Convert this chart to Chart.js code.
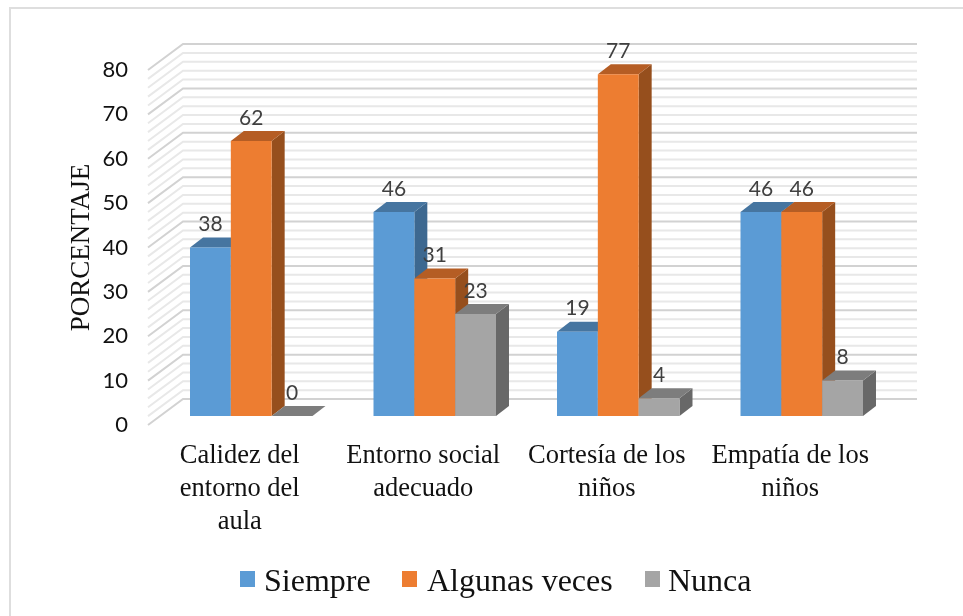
<!DOCTYPE html>
<html>
<head>
<meta charset="utf-8">
<script src="https://cdn.jsdelivr.net/npm/chart.js@4"></script>
<style>
    html, body { margin: 0; padding: 0; background: #fff; }
    #wrap { position: relative; width: 963px; height: 616px; overflow: hidden; }
    #frame { position: absolute; left: 9px; top: 7px; right: 0; bottom: 0; border-left: 2px solid #dedede; border-top: 2px solid #dedede; }
    #chart { position: absolute; left: 0; top: 0; }
    .legend-item { position: absolute; top: 560px; font: 32px "Liberation Serif", serif; line-height: 40px; color: #111; white-space: nowrap; }
    .legend-box { position: absolute; top: 571px; width: 15px; height: 16px; }
</style>
</head>
<body>
<div id="wrap">
    <div id="frame"></div>
    <canvas id="chart" width="963" height="616"></canvas>
</div>
<script>
const categories = [
    ['Calidez del', 'entorno del', 'aula'],
    ['Entorno social', 'adecuado'],
    ['Cortesía de los', 'niños'],
    ['Empatía de los', 'niños']
];
const siempre = [38, 46, 19, 46];
const algunasVeces = [62, 31, 77, 46];
const nunca = [0, 23, 4, 8];

const seriesNames = ['Siempre', 'Algunas veces', 'Nunca'];
const frontColors = ['#5b9bd5', '#ed7d31', '#a5a5a5'];
const topColors = ['#4675a0', '#b55d24', '#7d7d7d'];
const sideColors = ['#3d6890', '#964f1d', '#686868'];
const legendBoxX = [240, 402, 645];
const legendTextX = [264, 427, 668];

// wall depth and how far the bars stand off the front of the floor
const wallDx = 35, wallDy = -26;
const barShiftX = 11.5, barShiftY = -9;
const depthX = 13, depthY = -10;

function poly(ctx, pts, color) {
    ctx.fillStyle = color;
    ctx.beginPath();
    pts.forEach((p, i) => i ? ctx.lineTo(p[0], p[1]) : ctx.moveTo(p[0], p[1]));
    ctx.closePath();
    ctx.fill();
}

const wallsPlugin = {
    id: 'walls',
    beforeDatasetsDraw(chart) {
        const { ctx, chartArea, scales } = chart;
        ctx.save();
        ctx.filter = 'blur(0.7px)'; // the source picture is a soft screenshot
        scales.y.ticks.forEach(tick => {
            const y = scales.y.getPixelForValue(tick.value);
            const major = tick.value % 10 === 0;
            ctx.strokeStyle = major ? '#d2d2d2' : '#e8e8e8';
            ctx.lineWidth = 2;
            ctx.beginPath();
            ctx.moveTo(chartArea.left, y);
            ctx.lineTo(chartArea.left + wallDx, y + wallDy);
            ctx.lineTo(chartArea.right + wallDx, y + wallDy);
            ctx.stroke();
        });
        ctx.restore();
    }
};

const bars3dPlugin = {
    id: 'bars3d',
    // the plugin paints the bars itself, left series first, so the faces overlap properly
    beforeDatasetDraw() {
        return false;
    },
    afterDatasetsDraw(chart) {
        const { ctx } = chart;
        ctx.save();
        ctx.translate(barShiftX, barShiftY);
        ctx.filter = 'blur(0.4px)';
        chart.data.datasets.forEach((ds, d) => {
            chart.getDatasetMeta(d).data.forEach(bar => {
                const l = bar.x - bar.width / 2, r = bar.x + bar.width / 2;
                const t = bar.y, b = bar.base;
                poly(ctx, [[r, t], [r + depthX, t + depthY], [r + depthX, b + depthY], [r, b]], sideColors[d]);
                poly(ctx, [[l, t], [l + depthX, t + depthY], [r + depthX, t + depthY], [r, t]], topColors[d]);
                if (b > t) poly(ctx, [[l, t], [r, t], [r, b], [l, b]], frontColors[d]);
            });
        });
        // value labels go on top of every bar
        ctx.fillStyle = '#404040';
        ctx.font = '21px Lato';
        ctx.textAlign = 'center';
        ctx.textBaseline = 'middle';
        chart.data.datasets.forEach((ds, d) => {
            chart.getDatasetMeta(d).data.forEach((bar, i) => {
                ctx.fillText(ds.data[i], bar.x, bar.y - 23);
            });
        });
        ctx.restore();
    }
};

new Chart(document.getElementById('chart'), {
    type: 'bar',
    data: {
        labels: categories,
        datasets: [
            { label: seriesNames[0], data: siempre, backgroundColor: frontColors[0] },
            { label: seriesNames[1], data: algunasVeces, backgroundColor: frontColors[1] },
            { label: seriesNames[2], data: nunca, backgroundColor: frontColors[2] }
        ]
    },
    plugins: [wallsPlugin, bars3dPlugin],
    options: {
        responsive: false,
        animation: false,
        layout: { padding: { left: 66, right: 81, top: 70, bottom: 58 } },
        categoryPercentage: 0.6675,
        barPercentage: 1,
        plugins: { legend: { display: false }, tooltip: { enabled: false } },
        scales: {
            x: {
                grid: { display: false, drawTicks: false },
                border: { display: false },
                ticks: {
                    color: '#111',
                    padding: 14,
                    maxRotation: 0,
                    autoSkip: false,
                    font: { family: 'Liberation Serif', size: 26.5, lineHeight: 1.25 }
                },
                afterFit(scale) { scale.height = 133; }
            },
            y: {
                min: 0,
                max: 80,
                grid: { display: false, drawTicks: false },
                border: { display: false },
                title: {
                    display: true,
                    text: 'PORCENTAJE',
                    color: '#111',
                    padding: 0,
                    font: { family: 'Liberation Serif', size: 27, weight: 'normal' }
                },
                ticks: {
                    stepSize: 2,
                    autoSkip: false,
                    color: '#111',
                    padding: 20,
                    font: { family: 'Lato', size: 22 },
                    callback: v => (v % 10 === 0 ? v : '')
                },
                afterFit(scale) { scale.width = 82; }
            }
        }
    }
});

// legend is laid out by hand to hit the tight box-to-text gap
const wrap = document.getElementById('wrap');
seriesNames.forEach((name, i) => {
    const box = document.createElement('div');
    box.className = 'legend-box';
    box.style.left = legendBoxX[i] + 'px';
    box.style.background = frontColors[i];
    wrap.appendChild(box);
    const label = document.createElement('div');
    label.className = 'legend-item';
    label.style.left = legendTextX[i] + 'px';
    label.textContent = name;
    wrap.appendChild(label);
});
</script>
</body>
</html>
